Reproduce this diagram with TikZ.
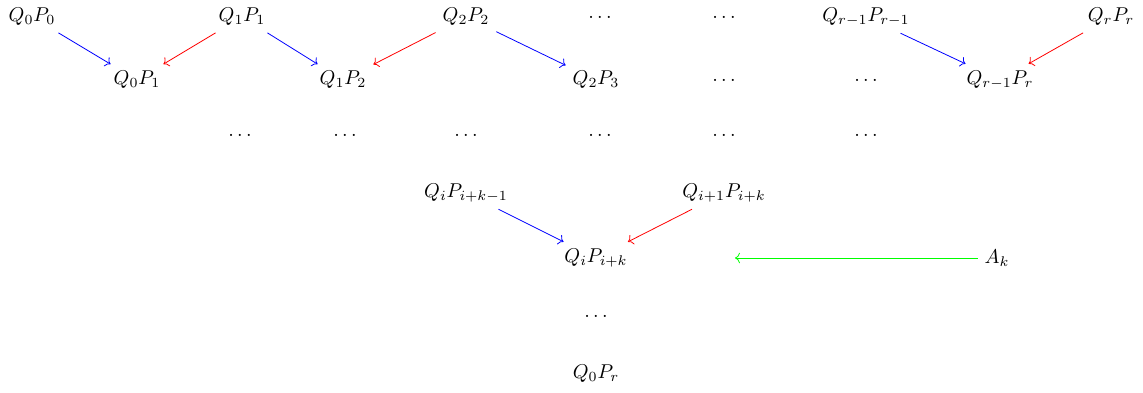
\documentclass[tikz,border=0pt]{standalone}
\usepackage{tikz}
\usetikzlibrary{arrows.meta}

\begin{document}
\begin{tikzpicture}[x=0.5pt,y=-0.5pt,
  blu/.style={->,blue},
  rd/.style={->,red},
  grn/.style={->,green}]
  \useasboundingbox (0,0) rectangle (1143,392);
  % top row
  \node (q0p0) at (32,17) {$Q_0P_0$};
  \node (q1p1) at (242,17) {$Q_1P_1$};
  \node (q2p2) at (466,17) {$Q_2P_2$};
  \node (dtopa) at (600,17) {$\dots$};
  \node (dtopb) at (724,17) {$\dots$};
  \node (qrmpr) at (866,17) {$Q_{r-1}P_{r-1}$};
  \node (qrpr) at (1111,17) {$Q_rP_r$};
  % second row
  \node (q0p1) at (137,80) {$Q_0P_1$};
  \node (q1p2) at (343,80) {$Q_1P_2$};
  \node (q2p3) at (596,80) {$Q_2P_3$};
  \node (dseca) at (724,80) {$\dots$};
  \node (dsecb) at (866,80) {$\dots$};
  \node (qrmp) at (1000,80) {$Q_{r-1}P_r$};
  % middle dots
  \foreach \x/\nm in {240/a,345/b,466/c,600/d,724/e,866/f}{
    \node (dmid\nm) at (\x,135) {$\dots$};
  }
  % lower part
  \node (qipk) at (466,193) {$Q_iP_{i+k-1}$};
  \node (qnpk) at (724,193) {$Q_{i+1}P_{i+k}$};
  \node (qip) at (596,258) {$Q_iP_{i+k}$};
  \node (ak) at (997,258) {$A_k$};
  \coordinate (akend) at (735,258);
  \node (dlow) at (596,316) {$\dots$};
  \node (q0pr) at (596,374) {$Q_0P_r$};

  \draw[blu] (q0p0) -- (q0p1);
  \draw[rd] (q1p1) -- (q0p1);
  \draw[blu] (q1p1) -- (q1p2);
  \draw[rd] (q2p2) -- (q1p2);
  \draw[blu] (q2p2) -- (q2p3);
  \draw[blu] (qrmpr) -- (qrmp);
  \draw[rd] (qrpr) -- (qrmp);
  \draw[blu] (qipk) -- (qip);
  \draw[rd] (qnpk) -- (qip);
  \draw[grn] (ak) -- (akend);
\end{tikzpicture}
\end{document}
